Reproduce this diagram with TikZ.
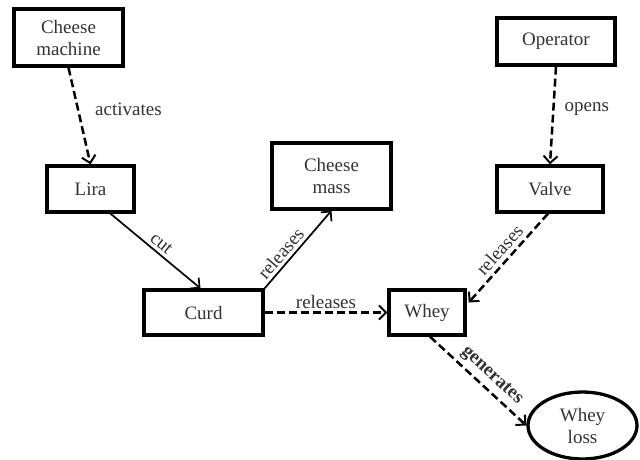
\documentclass[tikz,border=0pt]{standalone}
\usepackage{fontspec}
\setmainfont{Liberation Serif}
\usetikzlibrary{arrows.meta,shapes.geometric}

\tikzset{
  txt/.style={font=\fontsize{19}{22}\selectfont, text=black!80},
  box/.style={txt, draw=black, line width=3.3pt, rectangle, inner sep=0pt, align=center},
  oval/.style={txt, draw=black, line width=3.3pt, ellipse, inner sep=0pt, align=center},
  link/.style={line width=1.7pt, -{Straight Barb[length=7pt,width=14pt,line width=1.7pt]}},
  dlink/.style={link, line width=2.5pt, dash pattern=on 8pt off 4pt,
                -{Straight Barb[length=7pt,width=14pt,line width=2pt]}},
  lbl/.style={txt, inner sep=2pt}
}

\begin{document}
\begin{tikzpicture}[x=1pt, y=-1pt]
  \useasboundingbox[fill=white] (0,0) rectangle (640,459);

  % boxes
  \node[box, minimum width=109pt, minimum height=57pt] (machine) at (68.5,37.5) {Cheese\\machine};
  \node[box, minimum width=87pt,  minimum height=46pt] (lira)    at (90.5,189)  {Lira};
  \node[box, minimum width=119pt, minimum height=66pt] (mass)    at (331.5,176) {Cheese\\mass};
  \node[box, minimum width=118pt, minimum height=47pt] (operator) at (556,41.5) {Operator};
  \node[box, minimum width=106pt, minimum height=46pt] (valve)   at (550,189)   {Valve};
  \node[box, minimum width=119pt, minimum height=45pt] (curd)    at (203.5,312.5) {Curd};
  \node[box, minimum width=76pt,  minimum height=45pt] (whey)    at (427,312.5) {Whey};
  \node[oval, minimum width=109pt, minimum height=67pt] (loss)   at (582.5,425.5) {Whey\\loss};

  % connectors
  \draw[dlink] (machine.south) -- (lira.north)
    node[lbl, pos=0.43, right=14pt] {activates};
  \draw[dlink] (operator.south) -- (valve.north)
    node[lbl, pos=0.43, right=8pt] {opens};
  \draw[link] ([xshift=20pt]lira.south) -- ([xshift=-3pt]curd.north)
    node[lbl, pos=0.5, sloped, above, inner sep=3pt] {cut};
  \draw[link] (curd.north east) -- (mass.south)
    node[lbl, pos=0.36, sloped, above, inner sep=3pt] {releases};
  \draw[dlink] (curd.east) -- (whey.west)
    node[lbl, pos=0.5, above, inner sep=3pt] {releases};
  \draw[dlink] ([xshift=-2pt]valve.south) -- ([xshift=2pt,yshift=10pt]whey.east)
    node[lbl, pos=0.5, sloped, above, inner sep=4pt] {releases};
  \draw[dlink] ([xshift=3pt]whey.south) -- (loss.west)
    node[lbl, pos=0.55, sloped, above, inner sep=4pt, font=\fontsize{19}{22}\selectfont\bfseries] {generates};
\end{tikzpicture}
\end{document}
